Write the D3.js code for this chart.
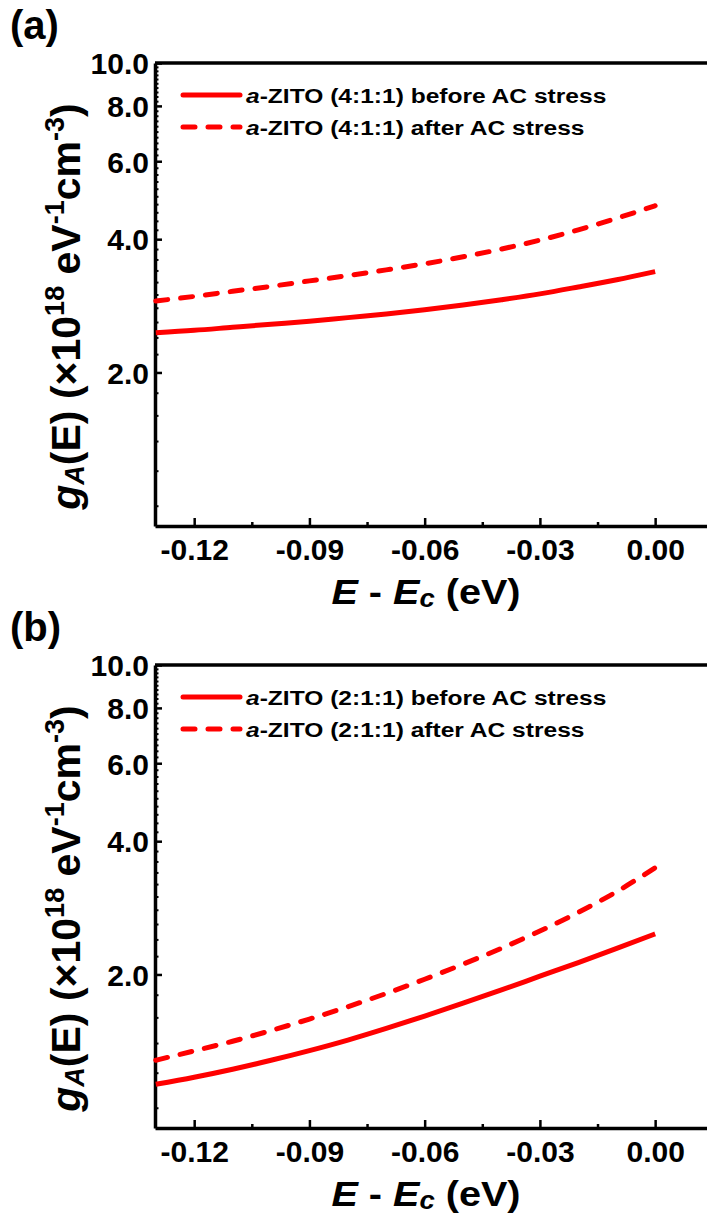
<!DOCTYPE html>
<html>
<head>
<meta charset="utf-8">
<script src="https://cdn.jsdelivr.net/npm/d3@7/dist/d3.min.js"></script>
<style>
  body { margin: 0; background: #fff; }
  svg text { font-family: "Liberation Sans", Arial, sans-serif; font-weight: bold; fill: #000; }
  .axis path, .axis line { stroke: #000; }
</style>
</head>
<body>
<div id="chart"></div>
<script>
// energy grid (E - Ec, eV)
const energy = [-0.13, -0.12, -0.11, -0.10, -0.09, -0.08, -0.07, -0.06, -0.05, -0.04, -0.03, -0.02, -0.01, 0.00];

// gA(E) in units of 1e18 eV^-1 cm^-3
const zito411Before = [2.46, 2.49, 2.53, 2.57, 2.61, 2.66, 2.71, 2.77, 2.84, 2.92, 3.01, 3.12, 3.24, 3.38];
const zito411After  = [2.90, 2.97, 3.05, 3.13, 3.22, 3.31, 3.41, 3.52, 3.65, 3.80, 3.98, 4.20, 4.46, 4.76];
const zito211Before = [1.13, 1.172, 1.222, 1.28, 1.346, 1.422, 1.511, 1.611, 1.722, 1.845, 1.982, 2.128, 2.291, 2.47];
const zito211After  = [1.28, 1.344, 1.413, 1.494, 1.586, 1.691, 1.812, 1.951, 2.11, 2.292, 2.507, 2.762, 3.077, 3.485];

const xTicks = [-0.12, -0.09, -0.06, -0.03, 0.00];
const xMinorTicks = [-0.105, -0.075, -0.045, -0.015];
const yTicks = [2, 4, 6, 8, 10];

const panelLabels = ["(a)", "(b)"];
const legendA = ["(4:1:1) before AC stress", "(4:1:1) after AC stress"];
const legendB = ["(2:1:1) before AC stress", "(2:1:1) after AC stress"];

class DosPanel {

  constructor(_config) {
    this.config = {
      svg: _config.svg,
      offsetY: _config.offsetY,
      label: _config.label,
      legend: _config.legend,
      before: _config.before,
      after: _config.after
    };
    this.config.margin = { left: 155, top: 63 };
    this.config.width = 707 - 155;
    this.config.height = 463;

    this.initVis();
  }

  initVis() {
    let vis = this;
    let cfg = vis.config;

    vis.g = cfg.svg.append("g")
        .attr("transform", "translate(" + cfg.margin.left + "," + (cfg.margin.top + cfg.offsetY) + ")");

    vis.xScale = d3.scaleLinear()
        .domain([-0.1302, 0.0135])
        .range([0, cfg.width]);

    vis.yScale = d3.scaleLog()
        .domain([0.9, 10])
        .range([cfg.height, 0]);

    vis.updateVis();
  }

  updateVis() {
    let vis = this;
    let cfg = vis.config;
    let hyphen = fmt => d => d3.format(fmt)(d).replace("\u2212", "-");

    // minor ticks first, majors on top
    let yMinor = d3.range(1.0, 10.0, 0.2).filter(v => Math.abs(v - Math.round(v / 2) * 2) > 1e-6);

    vis.g.append("g")
        .attr("class", "axis")
        .call(d3.axisLeft(vis.yScale).tickValues(yMinor).tickSize(-3.5).tickSizeOuter(0).tickFormat(""))
        .call(g => g.select(".domain").remove())
        .selectAll("line").attr("stroke-width", 2);

    vis.g.append("g")
        .attr("class", "axis")
        .attr("transform", "translate(0," + cfg.height + ")")
        .call(d3.axisBottom(vis.xScale).tickValues(xMinorTicks).tickSize(-4).tickSizeOuter(0).tickFormat(""))
        .call(g => g.select(".domain").remove())
        .selectAll("line").attr("stroke-width", 2.5);

    let yAxisG = vis.g.append("g")
        .attr("class", "axis")
        .call(d3.axisLeft(vis.yScale).tickValues(yTicks).tickSize(-7).tickSizeOuter(0).tickPadding(6)
          .tickFormat(hyphen(".1f")));
    yAxisG.select(".domain").attr("stroke-width", 3.5);
    yAxisG.selectAll(".tick line").attr("stroke-width", 2.5);
    yAxisG.selectAll(".tick text")
        .attr("font-size", 30)
        .attr("dy", "0.36em");

    let xAxisG = vis.g.append("g")
        .attr("class", "axis")
        .attr("transform", "translate(0," + cfg.height + ")")
        .call(d3.axisBottom(vis.xScale).tickValues(xTicks).tickSize(-8).tickSizeOuter(0).tickPadding(13)
          .tickFormat(hyphen(".2f")));
    xAxisG.select(".domain").attr("stroke-width", 3.5);
    xAxisG.selectAll(".tick line").attr("stroke-width", 2.5);
    xAxisG.selectAll(".tick text")
        .attr("font-size", 30);

    // top frame line
    vis.g.append("line")
        .attr("x1", 0).attr("x2", cfg.width)
        .attr("y1", 0).attr("y2", 0)
        .attr("stroke", "#000").attr("stroke-width", 3.5);

    // curves
    let line = d3.line()
        .x((d, i) => vis.xScale(energy[i]))
        .y(d => vis.yScale(d))
        .curve(d3.curveMonotoneX);

    vis.g.append("path")
        .datum(cfg.before)
        .attr("d", line)
        .attr("fill", "none")
        .attr("stroke", "#ff0000")
        .attr("stroke-width", 5);

    vis.g.append("path")
        .datum(cfg.after)
        .attr("d", line)
        .attr("fill", "none")
        .attr("stroke", "#ff0000")
        .attr("stroke-width", 5)
        .attr("stroke-linecap", "round")
        .attr("stroke-dasharray", "12,13");

    // legend
    let legendStretch = 1.17;
    let legendRows = vis.g.selectAll(".legend-row")
        .data(cfg.legend)
      .enter().append("g")
        .attr("class", "legend-row")
        .attr("transform", (d, i) => "translate(28," + (32 + i * 32) + ")");

    legendRows.append("line")
        .attr("x1", 0).attr("x2", 57)
        .attr("stroke", "#ff0000")
        .attr("stroke-width", 5)
        .attr("stroke-linecap", "round")
        .attr("stroke-dasharray", (d, i) => i === 0 ? null : "12,13");

    let legendText = legendRows.append("text")
        .attr("y", 7.5)
        .attr("font-size", 21)
        .attr("transform", "scale(" + legendStretch + ",1)")
        .attr("x", 63 / legendStretch);
    legendText.append("tspan").attr("font-style", "italic").text("a");
    legendText.append("tspan").text(d => "-ZITO " + d);

    // x title
    let xTitle = vis.g.append("text")
        .attr("transform", "translate(" + (cfg.width * 0.5 - 5) + "," + (cfg.height + 78) + ") scale(1.1,1)")
        .attr("text-anchor", "middle")
        .attr("font-size", 36);
    xTitle.append("tspan").attr("font-style", "italic").text("E");
    xTitle.append("tspan").text(" - ");
    xTitle.append("tspan").attr("font-style", "italic").text("E");
    xTitle.append("tspan").attr("font-style", "italic").attr("font-size", 25).attr("dy", 3).text("c");
    xTitle.append("tspan").attr("dy", -3).text(" (eV)");

    // y title
    let yTitle = vis.g.append("text")
        .attr("transform", "translate(-75," + (cfg.height * 0.5 + 12) + ") rotate(-90)")
        .attr("text-anchor", "middle")
        .attr("font-size", 41);
    yTitle.append("tspan").attr("font-style", "italic").text("g");
    yTitle.append("tspan").attr("font-style", "italic").attr("font-size", 27).attr("dy", 4).text("A");
    yTitle.append("tspan").attr("dy", -4).text("(E) (\u00d710");
    yTitle.append("tspan").attr("font-size", 27).attr("dy", -16).text("18");
    yTitle.append("tspan").attr("dy", 16).text(" eV");
    yTitle.append("tspan").attr("font-size", 27).attr("dy", -16).text("-1");
    yTitle.append("tspan").attr("dy", 16).text("cm");
    yTitle.append("tspan").attr("font-size", 27).attr("dy", -16).text("-3");
    yTitle.append("tspan").attr("dy", 16).text(")");

    // panel label
    cfg.svg.append("text")
        .attr("transform", "translate(10," + (cfg.offsetY + 39) + ")")
        .attr("font-size", 40)
        .text(cfg.label);
  }
}

const svg = d3.select("#chart").append("svg")
    .attr("width", 707)
    .attr("height", 1219);

new DosPanel({ svg: svg, offsetY: 0, label: panelLabels[0], legend: legendA,
  before: zito411Before, after: zito411After });
new DosPanel({ svg: svg, offsetY: 602, label: panelLabels[1], legend: legendB,
  before: zito211Before, after: zito211After });
</script>
</body>
</html>
